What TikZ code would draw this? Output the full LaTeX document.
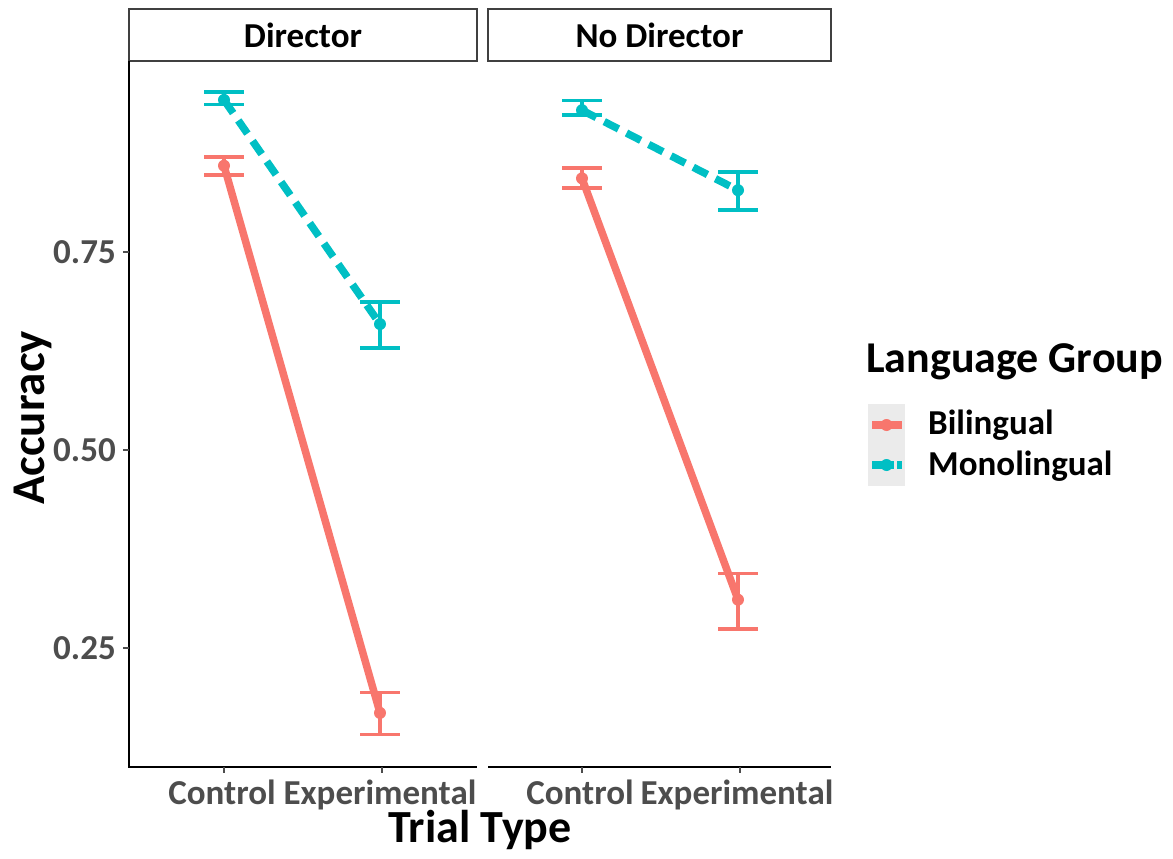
\documentclass[tikz,border=0pt]{standalone}
\usepackage{fontspec}
\setmainfont{Carlito}
\definecolor{bilin}{HTML}{F8766D}
\definecolor{monolin}{HTML}{00BFC4}
\definecolor{ticktext}{HTML}{4D4D4D}
\definecolor{keygray}{HTML}{EBEBEB}
\newcommand{\accpx}[1]{450-(#1-0.5)*792}

\begin{document}
\begin{tikzpicture}[x=1pt, y=-1pt, font=\bfseries,
    stripbox/.style={draw=black!75, line width=1.2pt, fill=white, minimum width=348pt, minimum height=52pt, inner sep=0pt, font=\fontsize{35}{35}\selectfont\bfseries},
    ticklab/.style={text=ticktext, font=\fontsize{35}{35}\selectfont\bfseries, inner sep=0pt},
    axtitle/.style={font=\fontsize{46}{46}\selectfont\bfseries, inner sep=0pt},
    bline/.style={bilin, line width=7.5pt},
    mline/.style={monolin, line width=7.5pt, dash pattern=on 16pt off 9pt},
    errb/.style={line width=3.5pt},
    pt/.style={circle, inner sep=0pt, minimum size=12pt}]
    \useasboundingbox (0,0) rectangle (1173,859);

    % strips
    \node[stripbox] (dirstrip) at (303,35){Director};
    \node[stripbox, minimum width=343pt] (nodirstrip) at (659.5,35){No Director};

    % axes
    \draw[line width=1.6pt] (129,61) -- (129,767) -- (477,767);
    \draw[line width=1.6pt] (488,767) -- (831,767);
    \foreach \v in {0.25,0.50,0.75}
        \draw[line width=1.6pt, ticktext] (123,{\accpx{\v}}) -- (129,{\accpx{\v}});
    \foreach \x in {224,382,582,740}
        \draw[line width=1.6pt, ticktext] (\x,767) -- (\x,773);

    % tick labels
    \node[ticklab, anchor=east] (yl75) at (116,{\accpx{0.75}}){0.75};
    \node[ticklab, anchor=east] (yl50) at (116,{\accpx{0.50}}){0.50};
    \node[ticklab, anchor=east] (yl25) at (116,{\accpx{0.25}}){0.25};
    \node[ticklab, anchor=base] (xlc1) at (222,804){Control};
    \node[ticklab, anchor=base] (xle1) at (380,804){Experimental};
    \node[ticklab, anchor=base] (xlc2) at (580,804){Control};
    \node[ticklab, anchor=base] (xle2) at (737,804){Experimental};

    % axis titles
    \node[axtitle, font=\fontsize{47}{47}\selectfont\bfseries] (ytitle) at (33,418)[rotate=90]{Accuracy};
    \node[axtitle] (xtitle) at (480,830){Trial Type};

    % data points
    \coordinate (bc1) at (224,{\accpx{0.859}});
    \coordinate (be1) at (380,{\accpx{0.168}});
    \coordinate (mc1) at (224,{\accpx{0.942}});
    \coordinate (me1) at (380,{\accpx{0.659}});
    \coordinate (bc2) at (582,{\accpx{0.843}});
    \coordinate (be2) at (738,{\accpx{0.311}});
    \coordinate (mc2) at (582,{\accpx{0.929}});
    \coordinate (me2) at (738,{\accpx{0.828}});

    % lines
    \draw[bline] (bc1) -- (be1);
    \draw[bline] (bc2) -- (be2);
    \draw[mline] (mc1) -- (me1);
    \draw[mline] (mc2) -- (me2);

    % points
    \foreach \p in {bc1,be1,bc2,be2}
        \node[pt, fill=bilin] at (\p){};
    \foreach \p in {mc1,me1,mc2,me2}
        \node[pt, fill=monolin] at (\p){};

    % error bars
    \draw[errb, bilin] (204,{\accpx{0.847}}) -- (244,{\accpx{0.847}}) (224,{\accpx{0.847}}) -- (224,{\accpx{0.870}}) (204,{\accpx{0.870}}) -- (244,{\accpx{0.870}});
    \draw[errb, bilin] (360,{\accpx{0.141}}) -- (400,{\accpx{0.141}}) (380,{\accpx{0.141}}) -- (380,{\accpx{0.194}}) (360,{\accpx{0.194}}) -- (400,{\accpx{0.194}});
    \draw[errb, monolin] (204,{\accpx{0.936}}) -- (244,{\accpx{0.936}}) (224,{\accpx{0.936}}) -- (224,{\accpx{0.952}}) (204,{\accpx{0.952}}) -- (244,{\accpx{0.952}});
    \draw[errb, monolin] (360,{\accpx{0.629}}) -- (400,{\accpx{0.629}}) (380,{\accpx{0.629}}) -- (380,{\accpx{0.687}}) (360,{\accpx{0.687}}) -- (400,{\accpx{0.687}});
    \draw[errb, bilin] (562,{\accpx{0.831}}) -- (602,{\accpx{0.831}}) (582,{\accpx{0.831}}) -- (582,{\accpx{0.856}}) (562,{\accpx{0.856}}) -- (602,{\accpx{0.856}});
    \draw[errb, bilin] (718,{\accpx{0.274}}) -- (758,{\accpx{0.274}}) (738,{\accpx{0.274}}) -- (738,{\accpx{0.344}}) (718,{\accpx{0.344}}) -- (758,{\accpx{0.344}});
    \draw[errb, monolin] (562,{\accpx{0.923}}) -- (602,{\accpx{0.923}}) (582,{\accpx{0.923}}) -- (582,{\accpx{0.941}}) (562,{\accpx{0.941}}) -- (602,{\accpx{0.941}});
    \draw[errb, monolin] (718,{\accpx{0.803}}) -- (758,{\accpx{0.803}}) (738,{\accpx{0.803}}) -- (738,{\accpx{0.851}}) (718,{\accpx{0.851}}) -- (758,{\accpx{0.851}});

    % legend
    \node[axtitle, font=\fontsize{44}{44}\selectfont\bfseries, anchor=west] (legtitle) at (866,362){Language Group};
    \fill[keygray] (868,404) rectangle (905,486);
    \coordinate (kb1) at (872,425);
    \coordinate (kb2) at (902,425);
    \coordinate (km1) at (872,465);
    \coordinate (km2) at (902,465);
    \draw[bline] (kb1) -- (kb2);
    \draw[monolin, line width=7.5pt, dash pattern=on 22pt off 3pt] (km1) -- (km2);
    \node[pt, fill=bilin] at (886.5,425){};
    \node[pt, fill=monolin] at (886.5,465){};
    \node[ticklab, text=black, anchor=west] (legb) at (928,425){Bilingual};
    \node[ticklab, text=black, anchor=west] (legm) at (928,466){Monolingual};
\end{tikzpicture}
\end{document}
